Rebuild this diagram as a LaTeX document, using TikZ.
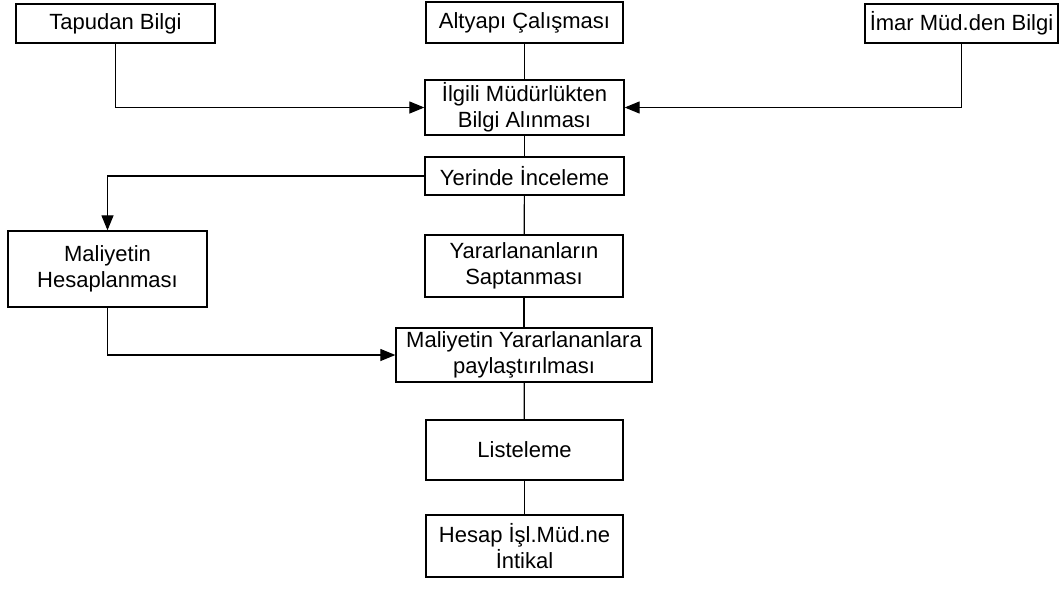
\documentclass[tikz,border=0pt]{standalone}
\usepackage{fontspec}
\setmainfont{Liberation Sans}
\usetikzlibrary{arrows.meta}

\begin{document}
\begin{tikzpicture}[x=1pt,y=-1pt,
  stepbox/.style={draw, line width=1.3pt, inner sep=0pt, align=center,
    font=\fontsize{22}{26}\selectfont},
  link/.style={line width=1.2pt},
  flow/.style={line width=1.2pt, -{Triangle[length=15pt,width=12pt]}}]
\useasboundingbox (0,0) rectangle (1062,597);

% top row: sources of information
\node[stepbox, minimum width=199pt, minimum height=39pt] (tapu) at (115.5,23.5) {Tapudan Bilgi};
\node[stepbox, minimum width=197pt, minimum height=41pt] (alt) at (524.5,22.5) {Altyapı Çalışması};
\node[stepbox, minimum width=193pt, minimum height=39pt] (imar) at (961.5,23.5) {İmar Müd.den Bilgi};

% main column
\node[stepbox, minimum width=199pt, minimum height=55pt] (ilgili) at (524.5,107.5) {İlgili Müdürlükten\\Bilgi Alınması};
\node[stepbox, minimum width=199pt, minimum height=38pt] (yer) at (524.5,176) {Yerinde İnceleme};
\node[stepbox, minimum width=198pt, minimum height=62pt] (yar) at (524,266) {Yararlananların\\Saptanması};
\node[stepbox, minimum width=256pt, minimum height=54pt] (maly) at (524,355) {Maliyetin Yararlananlara\\paylaştırılması};
\node[stepbox, minimum width=197pt, minimum height=60pt] (list) at (524.5,450) {Listeleme};
\node[stepbox, minimum width=197pt, minimum height=62pt] (hes) at (524.5,546) {Hesap İşl.Müd.ne\\İntikal};

% side branch
\node[stepbox, minimum width=199pt, minimum height=76pt] (malh) at (107.5,269) {Maliyetin\\Hesaplanması};

% connectors
\draw[flow] (tapu.south) |- (ilgili.west);
\draw[flow] (imar.south) |- (ilgili.east);
\draw[link] (alt) -- (ilgili);
\draw[link] (ilgili) -- (yer);
\draw[link] (yer) -- (yar);
\draw[link] (yar) -- (maly);
\draw[link] (maly) -- (list);
\draw[link] (list) -- (hes);
\draw[flow] (yer.west) -| (malh.north);
\draw[flow] (malh.south) |- (maly.west);
\end{tikzpicture}
\end{document}
